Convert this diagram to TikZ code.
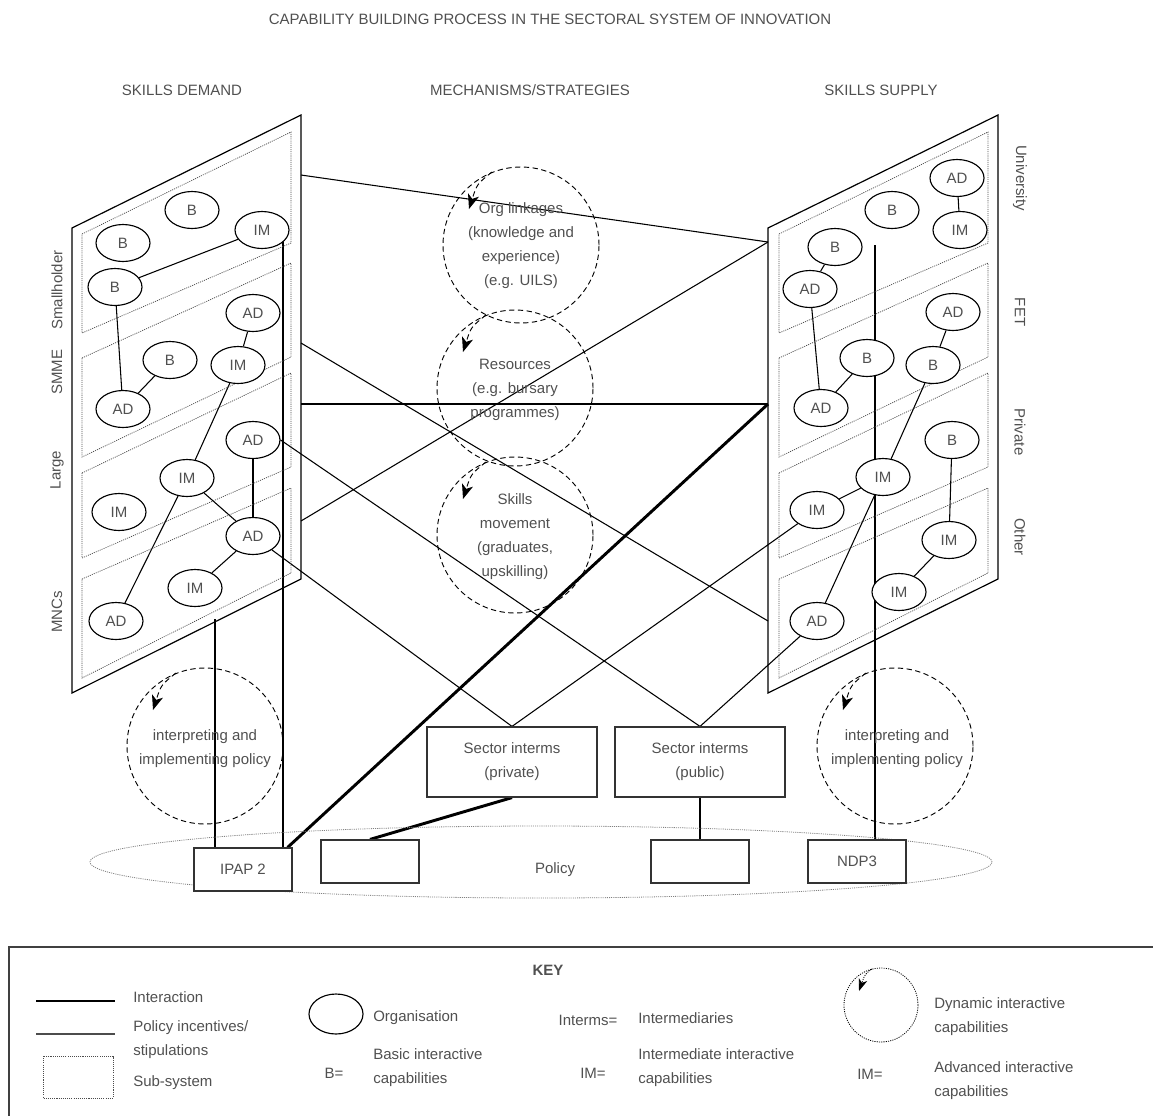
\documentclass[tikz,border=0pt]{standalone}
\usepackage{fontspec}
\setmainfont{Liberation Sans}
\usetikzlibrary{shapes.geometric,arrows.meta,calc}
\definecolor{txt}{RGB}{80,80,80}
\pgfdeclarelayer{bg}
\pgfsetlayers{bg,main}
% short dashed arrow inside a dynamic-capability circle
\newcommand\dynarr[1]{\draw[dynarrow] ($(#1)+(-29,-73)$) .. controls ($(#1)+(-44,-61)$) .. ($(#1)+(-52,-36)$);}
\begin{document}
\begin{tikzpicture}[x=0.75pt,y=-0.75pt,
  lbl/.style={font=\fontsize{11.25}{18}\selectfont, text=txt, inner sep=0pt},
  org/.style={ellipse, draw=black, line width=0.85pt, fill=white, minimum width=40.5pt, minimum height=27.75pt, inner sep=0pt, lbl},
  link/.style={line width=0.8pt},
  incent/.style={line width=2.2pt},
  panel/.style={line width=0.9pt},
  subsys/.style={draw=black!70, line width=0.55pt, dash pattern=on 0.8pt off 0.8pt},
  dyn/.style={draw=black, line width=0.7pt, dash pattern=on 4pt off 2.6pt},
  dyncircle/.style={circle, dyn, minimum size=117pt, inner sep=0pt},
  dynarrow/.style={dyn, -{Stealth[length=11pt,width=8.5pt,inset=3pt]}},
  polbox/.style={rectangle, draw=black!80, line width=0.9pt, fill=white, minimum width=73.5pt, minimum height=32.25pt, inner sep=0pt, lbl},
  secbox/.style={rectangle, draw=black!80, line width=0.9pt, fill=white, minimum width=127.5pt, minimum height=52.5pt, inner sep=0pt, lbl, align=center},
  side/.style={lbl}
]
\useasboundingbox (0,0) rectangle (1153,1115);
\clip (0,0) rectangle (1153,1115);

% ---------- headings ----------
\node[lbl] (title) at (550,19) {CAPABILITY BUILDING PROCESS IN THE SECTORAL SYSTEM OF INNOVATION};
\node[lbl] (hdem) at (182,90) {SKILLS DEMAND};
\node[lbl] (hmech) at (530,90) {MECHANISMS/STRATEGIES};
\node[lbl] (hsup) at (881,90) {SKILLS SUPPLY};

% ---------- demand panel ----------
\draw[panel] (72,228) -- (301,115) -- (301,579) -- (72,693) -- cycle;
\draw[subsys] (82,234) -- (291,132) -- (291,243) -- (82,333) -- cycle;
\draw[subsys] (82,358) -- (291,263) -- (291,357) -- (82,457) -- cycle;
\draw[subsys] (82,473) -- (291,373) -- (291,467) -- (82,558) -- cycle;
\draw[subsys] (82,579) -- (291,488) -- (291,573) -- (82,678) -- cycle;
\node[side, rotate=90] (sSmall) at (57,290) {Smallholder};
\node[side, rotate=90] (sSMME) at (57,372) {SMME};
\node[side, rotate=90] (sLarge) at (57,470) {Large};
\node[side, rotate=90] (sMNC) at (57,612) {MNCs};

\node[org] (LB1) at (123,243) {B};
\node[org] (LB2) at (192,210) {B};
\node[org] (LIM1) at (262,230) {IM};
\node[org] (LB3) at (115,287) {B};
\node[org] (LAD1) at (253,313) {AD};
\node[org] (LIM2) at (238,365) {IM};
\node[org] (LB4) at (170,360) {B};
\node[org] (LAD2) at (123,409) {AD};
\node[org] (LAD3) at (253,440) {AD};
\node[org] (LIM3) at (187,478) {IM};
\node[org] (LIM4) at (119,512) {IM};
\node[org] (LAD4) at (253,536) {AD};
\node[org] (LIM5) at (195,588) {IM};
\node[org] (LAD5) at (116,621) {AD};

% ---------- supply panel ----------
\draw[panel] (768,228) -- (998,115) -- (998,579) -- (768,693) -- cycle;
\draw[subsys] (779,234) -- (988,132) -- (988,243) -- (779,333) -- cycle;
\draw[subsys] (779,358) -- (988,263) -- (988,357) -- (779,457) -- cycle;
\draw[subsys] (779,473) -- (988,373) -- (988,467) -- (779,558) -- cycle;
\draw[subsys] (779,579) -- (988,488) -- (988,573) -- (779,678) -- cycle;
\node[side, rotate=-90] (sUni) at (1020,178) {University};
\node[side, rotate=-90] (sFET) at (1020,312) {FET};
\node[side, rotate=-90] (sPriv) at (1020,432) {Private};
\node[side, rotate=-90] (sOther) at (1020,537) {Other};

\node[org] (RB1) at (835,247) {B};
\node[org] (RB2) at (892,210) {B};
\node[org] (RAD1) at (957,178) {AD};
\node[org] (RIM1) at (960,230) {IM};
\node[org] (RAD2) at (810,289) {AD};
\node[org] (RAD3) at (953,312) {AD};
\node[org] (RB3) at (867,358) {B};
\node[org] (RB4) at (933,365) {B};
\node[org] (RAD4) at (821,408) {AD};
\node[org] (RB5) at (952,440) {B};
\node[org] (RIM2) at (883,477) {IM};
\node[org] (RIM3) at (817,510) {IM};
\node[org] (RIM4) at (949,540) {IM};
\node[org] (RIM5) at (899,592) {IM};
\node[org] (RAD5) at (817,621) {AD};

% ---------- mechanisms ----------
\node[dyncircle] (m1) at (521,245) {};
\node[dyncircle] (m2) at (515,388) {};
\node[dyncircle] (m3) at (515,535) {};
\dynarr{m1}
\dynarr{m2}
\dynarr{m3}
\node[lbl, align=center] (m1t) at (521,246) {Org linkages\\(knowledge and\\experience)\\(e.g. UILS)};
\node[lbl, align=center] (m2t) at (515,390) {Resources\\(e.g. bursary\\programmes)};
\node[lbl, align=center] (m3t) at (515,537) {Skills\\movement\\(graduates,\\upskilling)};

% ---------- policy level ----------
\node[dyncircle] (dl) at (205,746) {};
\node[dyncircle] (dr) at (895,746) {};
\dynarr{dl}
\dynarr{dr}
\node[lbl, align=center] (dlt) at (205,749) {interpreting and\\implementing policy};
\node[lbl, align=center] (drt) at (897,749) {interpreting and\\implementing policy};

\node[secbox] (priv) at (512,762) {Sector interms\\(private)};
\node[secbox] (pub) at (700,762) {Sector interms\\(public)};

\node[ellipse, draw=black!50, line width=0.6pt, dash pattern=on 0.8pt off 0.8pt, minimum width=676.5pt, minimum height=54pt, inner sep=0pt] (pol) at (541,862) {};
\node[lbl] (polt) at (555,870) {Policy};
\node[polbox] (ipap) at (243,869.5) {IPAP 2};
\node[polbox] (pb1) at (370,861.5) {};
\node[polbox] (pb2) at (700,861.5) {};
\node[polbox] (ndp) at (857,861.5) {NDP3};

% ---------- free connector ends ----------
\coordinate (aL) at (301,175);
\coordinate (aR) at (768,242);
\coordinate (bL) at (301,404);
\coordinate (bR) at (768,404);
\coordinate (cL) at (301,343);
\coordinate (cR) at (768,621);
\coordinate (fL) at (301,521);
\coordinate (lowL) at (215,619);
\coordinate (topR) at (875,245);

\begin{pgfonlayer}{bg}
% interactions within the demand panel
\draw[link] (LB3) -- (LIM1);
\draw[link] (LB3) -- (LAD2);
\draw[link] (LB4) -- (LAD2);
\draw[link] (LAD1) -- (LIM2);
\draw[link] (LIM2) -- (LIM3);
\draw[link] (LIM3) -- (LAD4);
\draw[link] (LAD3) -- (LAD4);
\draw[link] (LIM3) -- (LAD5);
\draw[link] (LAD4) -- (LIM5);
% interactions within the supply panel
\draw[link] (RAD1) -- (RIM1);
\draw[link] (RB1) -- (RAD2);
\draw[link] (RAD2) -- (RAD4);
\draw[link] (RB3) -- (RAD4);
\draw[link] (RAD3) -- (RB4);
\draw[link] (RB4) -- (RIM2);
\draw[link] (RIM2) -- (RIM3);
\draw[link] (RIM2) -- (RAD5);
\draw[link] (RB5) -- (RIM4);
\draw[link] (RIM4) -- (RIM5);
% interactions across the system
\draw[link] (aL) -- (aR);
\draw[link] (fL) -- (aR);
\draw[link] (bL) -- (bR);
\draw[link] (cL) -- (cR);
\draw[link] (LAD3.east) -- (pub.north);
\draw[link] (LAD4) -- (priv.north);
\draw[link] (RIM3) -- (priv.north);
\draw[link] (RAD5) -- (pub.north);
% policy incentives / stipulations
\draw[incent] (lowL) -- ($(ipap.north)+(-28,0)$);
\draw[incent] (283,230) -- ($(ipap.north)+(40,0)$);
\draw[incent] ($(ipap.north east)+(-5,0)$) -- (bR);
\draw[incent] (priv.south) -- (pb1.north);
\draw[incent] (pub.south) -- (pb2.north);
\draw[incent] (topR) -- ($(ndp.north)+(18,0)$);
\end{pgfonlayer}

% ---------- key ----------
\draw[draw=black!75, line width=0.9pt] (9,947) rectangle (1170,1130);
\node[lbl, font=\fontsize{11.25}{18}\selectfont\bfseries] (key) at (548,970) {KEY};
\coordinate (kI1) at (36,1001);
\coordinate (kI2) at (115,1001);
\coordinate (kP1) at (36,1034);
\coordinate (kP2) at (115,1034);
\draw[line width=0.9pt] (kI1) -- (kI2);
\draw[line width=0.9pt, draw=black!70] (kP1) -- (kP2);
\node[lbl, anchor=west] (kIt) at (133,997) {Interaction};
\node[lbl, anchor=west, align=left] (kPt) at (133,1040) {Policy incentives/\\stipulations};
\draw[subsys] (43,1056) rectangle (113,1098);
\node[lbl, anchor=west] (kSt) at (133,1083) {Sub-system};

\node[ellipse, draw=black, line width=0.85pt, minimum width=40.5pt, minimum height=30pt, inner sep=0pt] (kOrg) at (336,1014) {};
\node[lbl, anchor=west] (kOrgt) at (373,1018) {Organisation};
\node[lbl] (kB) at (334,1073) {B=};
\node[lbl, anchor=west, align=left] (kBt) at (373,1068) {Basic interactive\\capabilities};

\node[lbl] (kInt) at (588,1020) {Interms=};
\node[lbl, anchor=west] (kIntt) at (638,1018) {Intermediaries};
\node[lbl] (kIM) at (593,1073) {IM=};
\node[lbl, anchor=west, align=left] (kIMt) at (638,1068) {Intermediate interactive\\capabilities};

\node[circle, draw=black, line width=0.6pt, dash pattern=on 0.8pt off 0.9pt, minimum size=55.5pt, inner sep=0pt] (kDyn) at (881,1005) {};
\draw[line width=0.6pt, dash pattern=on 0.8pt off 0.9pt, -{Stealth[length=9pt,width=6.5pt,inset=2.5pt]}] ($(kDyn)+(-9,-36)$) .. controls ($(kDyn)+(-16,-31)$) .. ($(kDyn)+(-22,-14)$);
\node[lbl, anchor=west, align=left] (kDynt) at (934,1017) {Dynamic interactive\\capabilities};
\node[lbl] (kAD) at (870,1074) {IM=};
\node[lbl, anchor=west, align=left] (kADt) at (934,1081) {Advanced interactive\\capabilities};
\end{tikzpicture}
\end{document}
